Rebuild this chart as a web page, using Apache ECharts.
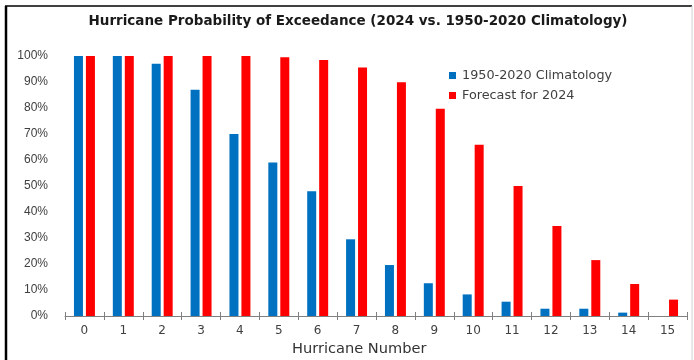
<!DOCTYPE html>
<html>
<head>
<meta charset="utf-8">
<script src="https://cdn.jsdelivr.net/npm/echarts@6/dist/echarts.min.js"></script>
<style>
  html, body { margin: 0; padding: 0; background: #ffffff; }
  #chart { width: 694px; height: 360px; }
</style>
</head>
<body>
<div id="chart"></div>
<script>
// Hurricane count categories and exceedance probabilities (%)
const hurricaneNumbers = ['0','1','2','3','4','5','6','7','8','9','10','11','12','13','14','15'];
const climatology = [100, 100, 97, 87, 70, 59, 48, 29.5, 19.6, 12.6, 8.3, 5.5, 2.8, 2.8, 1.3, 0];
const forecast2024 = [100, 100, 100, 100, 100, 99.5, 98.5, 95.6, 89.9, 79.7, 65.9, 50, 34.6, 21.5, 12.3, 6.3];

const chart = echarts.init(document.getElementById('chart'), null, { renderer: 'canvas' });
const fontFam = '"DejaVu Sans", Verdana, sans-serif';
const narrowFam = '"Liberation Sans", Arial, sans-serif';

chart.setOption({
  animation: false,
  backgroundColor: '#ffffff',
  title: {
    text: 'Hurricane Probability of Exceedance (2024 vs. 1950-2020 Climatology)',
    left: 353,
    top: 9,
    textAlign: 'center',
    textStyle: { fontFamily: fontFam, fontSize: 13.5, fontWeight: 'bold', color: '#1a1a1a' }
  },
  legend: {
    orient: 'vertical',
    left: 444,
    top: 64,
    itemWidth: 7,
    itemHeight: 7,
    itemGap: 7,
    icon: 'rect',
    textStyle: { fontFamily: fontFam, fontSize: 12.8, color: '#404040', padding: [0, 0, 0, 1] },
    data: ['1950-2020 Climatology', 'Forecast for 2024']
  },
  grid: { left: 65, right: 7, top: 56, bottom: 44, containLabel: false },
  xAxis: [
    {
      type: 'category',
      data: hurricaneNumbers,
      axisLine: { lineStyle: { color: '#808080', width: 1 } },
      axisTick: { show: true, alignWithLabel: false, length: 4, lineStyle: { color: '#808080' } },
      axisLabel: { fontFamily: fontFam, fontSize: 12, color: '#404040', margin: 9 }
    },
    {
      type: 'category',
      data: hurricaneNumbers,
      position: 'bottom',
      axisLine: { show: false },
      axisTick: { show: true, inside: true, length: 4, lineStyle: { color: '#808080' } },
      axisLabel: { show: false }
    }
  ],
  yAxis: {
    type: 'value',
    min: 0,
    max: 100,
    interval: 10,
    splitLine: { show: false },
    axisLine: { show: false },
    axisTick: { show: false },
    axisLabel: { formatter: '{value}%', fontFamily: narrowFam, fontSize: 12, color: '#404040', margin: 17 }
  },
  series: [
    {
      name: '1950-2020 Climatology',
      type: 'bar',
      data: climatology,
      barWidth: 9,
      barGap: '33%',
      itemStyle: { color: '#0070C0' }
    },
    {
      name: 'Forecast for 2024',
      type: 'bar',
      data: forecast2024,
      barWidth: 9,
      barGap: '33%',
      itemStyle: { color: '#FF0000' }
    }
  ],
  graphic: [
    { type: 'line', shape: { x1: 6, y1: 6, x2: 6, y2: 360 }, style: { stroke: '#000000', lineWidth: 2.5 } },
    { type: 'line', shape: { x1: 5, y1: 6, x2: 692, y2: 6 }, style: { stroke: '#000000', lineWidth: 1.5 } },
    { type: 'line', shape: { x1: 692, y1: 6, x2: 692, y2: 360 }, style: { stroke: '#d0d0d0', lineWidth: 1 } },
    {
      type: 'text',
      left: 292,
      top: 342,
      style: { text: 'Hurricane Number', font: '14.6px ' + fontFam, fill: '#333333' }
    }
  ]
});
</script>
</body>
</html>
